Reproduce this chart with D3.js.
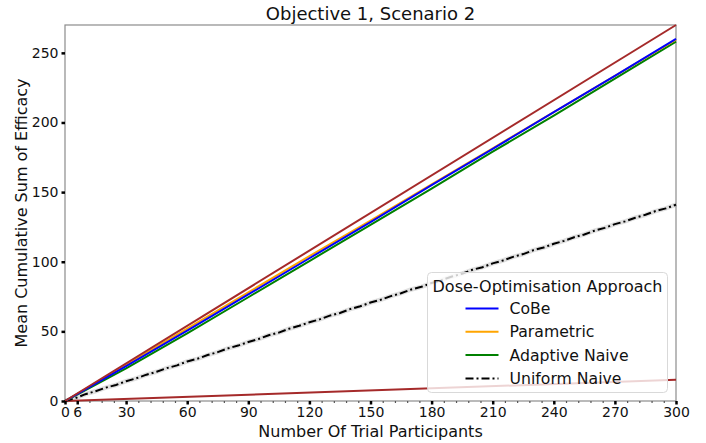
<!DOCTYPE html>
<html>
<head>
<meta charset="utf-8">
<script src="https://cdn.jsdelivr.net/npm/d3@7.9.0/dist/d3.min.js"></script>
<style>
  body { margin: 0; background: #fff; }
  svg { font-family: 'DejaVu Sans', sans-serif; }
</style>
</head>
<body>
<div id="chart"></div>
<script>
// data
const xKnots = [0, 6, 30, 60, 90, 120, 150, 180, 210, 240, 270, 300];
const cobe = [0, 5, 25, 50.5, 76.5, 102.5, 128.5, 155, 181, 207.5, 233.5, 260];
const parametric = [0, 5.2, 26, 52, 78, 104, 129.5, 155.5, 181.5, 207.5, 233.5, 259.5];
const adaptiveNaive = [0, 4.6, 23.5, 48.5, 74.5, 100.5, 126.5, 152.5, 179, 205, 231.5, 258];

const uniformX = d3.range(0, 301, 5);
const uniformNaive = [0, 2.0, 4.9, 7.0, 9.6, 11.5, 14.2, 16.3, 18.9, 21.0, 23.6, 25.6, 28.4, 30.3, 33.0,
    35.1, 37.8, 39.8, 42.4, 44.5, 47.2, 49.1, 51.9, 54.0, 56.5, 58.6, 61.3, 63.2, 66.0, 68.0, 70.7,
    72.7, 75.3, 77.4, 80.1, 82.0, 84.7, 86.8, 89.4, 91.4, 94.2, 96.1, 98.8, 100.9, 103.5, 105.5,
    108.3, 110.2, 112.9, 115.0, 117.6, 119.6, 122.3, 124.3, 127.0, 129.0, 131.6, 133.7, 136.4, 138.3, 141.0];

// the two brown reference lines (not in legend)
const boundX = [0, 300];
const upperBound = [0, 270];
const lowerBound = [0, 15.2];

const xMajor = [0, 6, 30, 60, 90, 120, 150, 180, 210, 240, 270, 300];
const xMinor = d3.range(0, 301, 6).filter(v => !xMajor.includes(v));
const yTicks = [0, 50, 100, 150, 200, 250];

const series = [
    { name: 'CoBe', color: '#0000ff', xs: xKnots, ys: cobe, dash: null },
    { name: 'Parametric', color: '#ffa500', xs: xKnots, ys: parametric, dash: null },
    { name: 'Adaptive Naive', color: '#008000', xs: xKnots, ys: adaptiveNaive, dash: null },
    { name: 'Uniform Naive', color: '#000000', xs: uniformX, ys: uniformNaive, dash: '8,3,2,3' }
];

const width = 706;
const height = 443;
const margin = { top: 25, right: 30, bottom: 42, left: 65 };

const svg = d3.select('#chart')
    .append('svg')
    .attr('width', width)
    .attr('height', height);

const xScale = d3.scaleLinear()
    .domain([0, 300])
    .range([margin.left, width - margin.right]);

const yScale = d3.scaleLinear()
    .domain([0, 270])
    .range([height - margin.bottom, margin.top]);

const line = d3.line()
    .x(d => xScale(d[0]))
    .y(d => yScale(d[1]));

const pairs = (xs, ys) => xs.map((x, i) => [x, ys[i]]);

// title
svg.append('text')
    .attr('x', (xScale.range()[0] + xScale.range()[1]) / 2)
    .attr('y', 20)
    .attr('text-anchor', 'middle')
    .attr('font-size', '18px')
    .attr('fill', '#111')
    .text('Objective 1, Scenario 2');

// spines
svg.append('rect')
    .attr('x', margin.left)
    .attr('y', margin.top)
    .attr('width', xScale.range()[1] - margin.left)
    .attr('height', yScale.range()[0] - margin.top)
    .attr('fill', 'none')
    .attr('stroke', '#8c8c8c')
    .attr('stroke-width', 1.2);

// lines
const lines = svg.append('g').attr('class', 'lines');

lines.append('path')
    .datum(pairs(uniformX, uniformNaive))
    .attr('d', line)
    .attr('fill', 'none')
    .attr('stroke', 'rgba(0,0,0,0.12)')
    .attr('stroke-width', 4.5);

lines.append('path')
    .datum(pairs(boundX, lowerBound))
    .attr('d', line)
    .attr('fill', 'none')
    .attr('stroke', '#a52a2a')
    .attr('stroke-width', 2);

series.slice().reverse().forEach(s => {
    lines.append('path')
        .datum(pairs(s.xs, s.ys))
        .attr('d', line)
        .attr('fill', 'none')
        .attr('stroke', s.color)
        .attr('stroke-width', 2)
        .attr('stroke-dasharray', s.dash);
});

lines.append('path')
    .datum(pairs(boundX, upperBound))
    .attr('d', line)
    .attr('fill', 'none')
    .attr('stroke', '#a52a2a')
    .attr('stroke-width', 2);

// x axis
const xAxis = svg.append('g')
    .attr('class', 'x-axis')
    .attr('transform', `translate(0, ${yScale(0)})`)
    .call(d3.axisBottom(xScale).tickValues(xMajor).tickSize(3.5).tickPadding(3).tickFormat(d3.format('d')));
xAxis.select('.domain').remove();
xAxis.selectAll('.tick line').attr('stroke', '#000').attr('stroke-width', 2.5);
xAxis.selectAll('.tick text').attr('font-size', '14px').attr('fill', '#111').attr('font-family', 'DejaVu Sans');

const xMinorAxis = svg.append('g')
    .attr('transform', `translate(0, ${yScale(0)})`)
    .call(d3.axisBottom(xScale).tickValues(xMinor).tickSize(2).tickFormat(''));
xMinorAxis.select('.domain').remove();
xMinorAxis.selectAll('.tick line').attr('stroke', '#555').attr('stroke-width', 1.2);

svg.append('text')
    .attr('x', (xScale.range()[0] + xScale.range()[1]) / 2)
    .attr('y', 437)
    .attr('text-anchor', 'middle')
    .attr('font-size', '16px')
    .attr('fill', '#111')
    .text('Number Of Trial Participants');

// y axis
const yAxis = svg.append('g')
    .attr('class', 'y-axis')
    .attr('transform', `translate(${margin.left}, 0)`)
    .call(d3.axisLeft(yScale).tickValues(yTicks).tickSize(3.5).tickPadding(3));
yAxis.select('.domain').remove();
yAxis.selectAll('.tick line').attr('stroke', '#000').attr('stroke-width', 2.5);
yAxis.selectAll('.tick text').attr('font-size', '14px').attr('fill', '#111').attr('font-family', 'DejaVu Sans');

svg.append('text')
    .attr('transform', 'rotate(-90)')
    .attr('x', -(yScale.range()[0] + yScale.range()[1]) / 2)
    .attr('y', 27)
    .attr('text-anchor', 'middle')
    .attr('font-size', '16px')
    .attr('fill', '#111')
    .text('Mean Cumulative Sum of Efficacy');

// legend
const legend = svg.append('g')
    .attr('class', 'legend')
    .attr('transform', 'translate(427.5, 272.5)');

legend.append('rect')
    .attr('width', 240)
    .attr('height', 120)
    .attr('rx', 4)
    .attr('fill', 'rgba(255,255,255,0.8)')
    .attr('stroke', '#d9d9d9');

legend.append('text')
    .attr('x', 120)
    .attr('y', 19)
    .attr('text-anchor', 'middle')
    .attr('font-size', '16px')
    .attr('fill', '#111')
    .text('Dose-Optimisation Approach');

const legendItem = legend.selectAll('.legend-item')
    .data(series)
    .enter()
    .append('g')
    .attr('class', 'legend-item')
    .attr('transform', (d, i) => `translate(0, ${36 + i * 23.3})`);

legendItem.append('line')
    .attr('x1', 38)
    .attr('x2', 71)
    .attr('y1', 0)
    .attr('y2', 0)
    .attr('stroke', d => d.color)
    .attr('stroke-width', 2)
    .attr('stroke-dasharray', d => d.dash);

legendItem.append('text')
    .attr('x', 82)
    .attr('y', 0)
    .attr('dy', '0.35em')
    .attr('font-size', '15.7px')
    .attr('fill', '#111')
    .text(d => d.name);
</script>
</body>
</html>
